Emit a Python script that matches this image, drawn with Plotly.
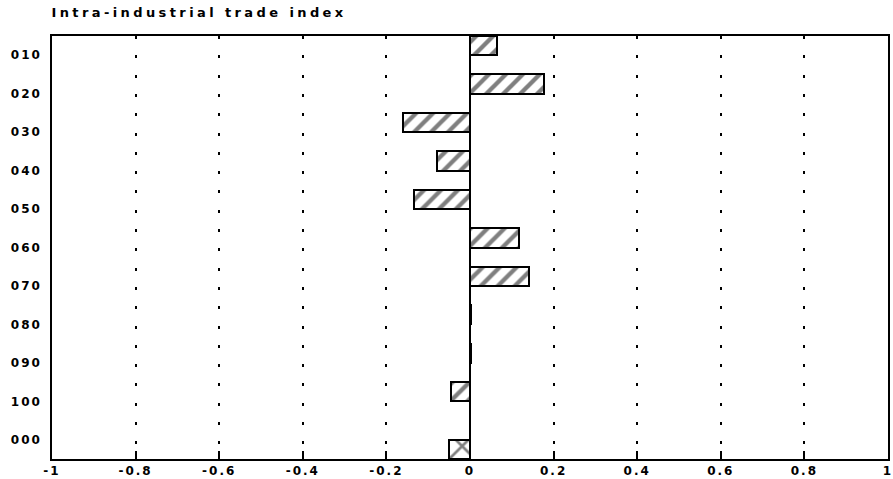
import plotly.graph_objects as go

# ---- data ----
categories = ["010", "020", "030", "040", "050", "060", "070", "080", "090", "100", "000"]
sector_index = [0.065, 0.176, -0.161, -0.078, -0.134, 0.117, 0.141, 0.003, 0.002, -0.045, None]
total_index = [None, None, None, None, None, None, None, None, None, None, -0.05]
x_tick_values = [-1, -0.8, -0.6, -0.4, -0.2, 0, 0.2, 0.4, 0.6, 0.8, 1]
x_tick_labels = ["-1", "-0.8", "-0.6", "-0.4", "-0.2", "0", "0.2", "0.4", "0.6", "0.8", "1"]
title_text = "Intra-industrial trade index"

FONT = "DejaVu Sans"

fig = go.Figure()
fig.add_trace(go.Bar(
    y=categories, x=sector_index, orientation="h", name="sectors",
    marker=dict(color="white", line=dict(color="black", width=2),
                pattern=dict(shape="/", size=12, solidity=0.36,
                             fgcolor="black", bgcolor="white", fillmode="overlay")),
))
fig.add_trace(go.Bar(
    y=categories, x=total_index, orientation="h", name="total",
    marker=dict(color="white", line=dict(color="black", width=2),
                pattern=dict(shape="x", size=20, solidity=0.25,
                             fgcolor="black", bgcolor="white", fillmode="overlay")),
))

fig.update_layout(
    width=893, height=479,
    margin=dict(l=52, r=5, t=36, b=20),
    paper_bgcolor="white", plot_bgcolor="white",
    barmode="group", bargap=0, bargroupgap=0,
    showlegend=False,
    font=dict(family=FONT, color="black", size=12, weight="bold"),
    annotations=[dict(
        text=title_text, xref="paper", yref="paper", x=0, y=1,
        xanchor="left", yanchor="bottom", yshift=14, xshift=45, showarrow=False,
        font=dict(family=FONT, size=13, color="black", weight="bold"),
    )],
)

fig.update_xaxes(
    range=[-1, 1], tickvals=x_tick_values, ticktext=x_tick_labels,
    ticks="inside", ticklen=8, tickwidth=1.5, tickcolor="black",
    showline=True, linecolor="black", linewidth=1.5, mirror=True,
    showgrid=True, gridcolor="black", gridwidth=2, griddash="3px,16.3px",
    zeroline=True, zerolinecolor="black", zerolinewidth=2,
    ticklabelstandoff=0, automargin=False, ticklabeloverflow="allow",
    tickfont=dict(family=FONT, size=12, color="black", weight="bold"),
)
fig.update_yaxes(
    type="category", categoryorder="array", categoryarray=categories,
    autorange="reversed", automargin=False,
    showline=True, linecolor="black", linewidth=1.5, mirror=True,
    showgrid=False, ticks="", ticklabelstandoff=6,
    tickfont=dict(family=FONT, size=12, color="black", weight="bold"),
)

post = ("document.body.style.margin='0';"
        "var s=document.createElement('style');"
        "s.textContent='body{margin:0}.xtick text,.ytick text{letter-spacing:2px}"
        " .annotation-text{letter-spacing:3.4px}';"
        "document.head.appendChild(s);")
fig.write_html("out.html", post_script=post, config={"displayModeBar": False})
